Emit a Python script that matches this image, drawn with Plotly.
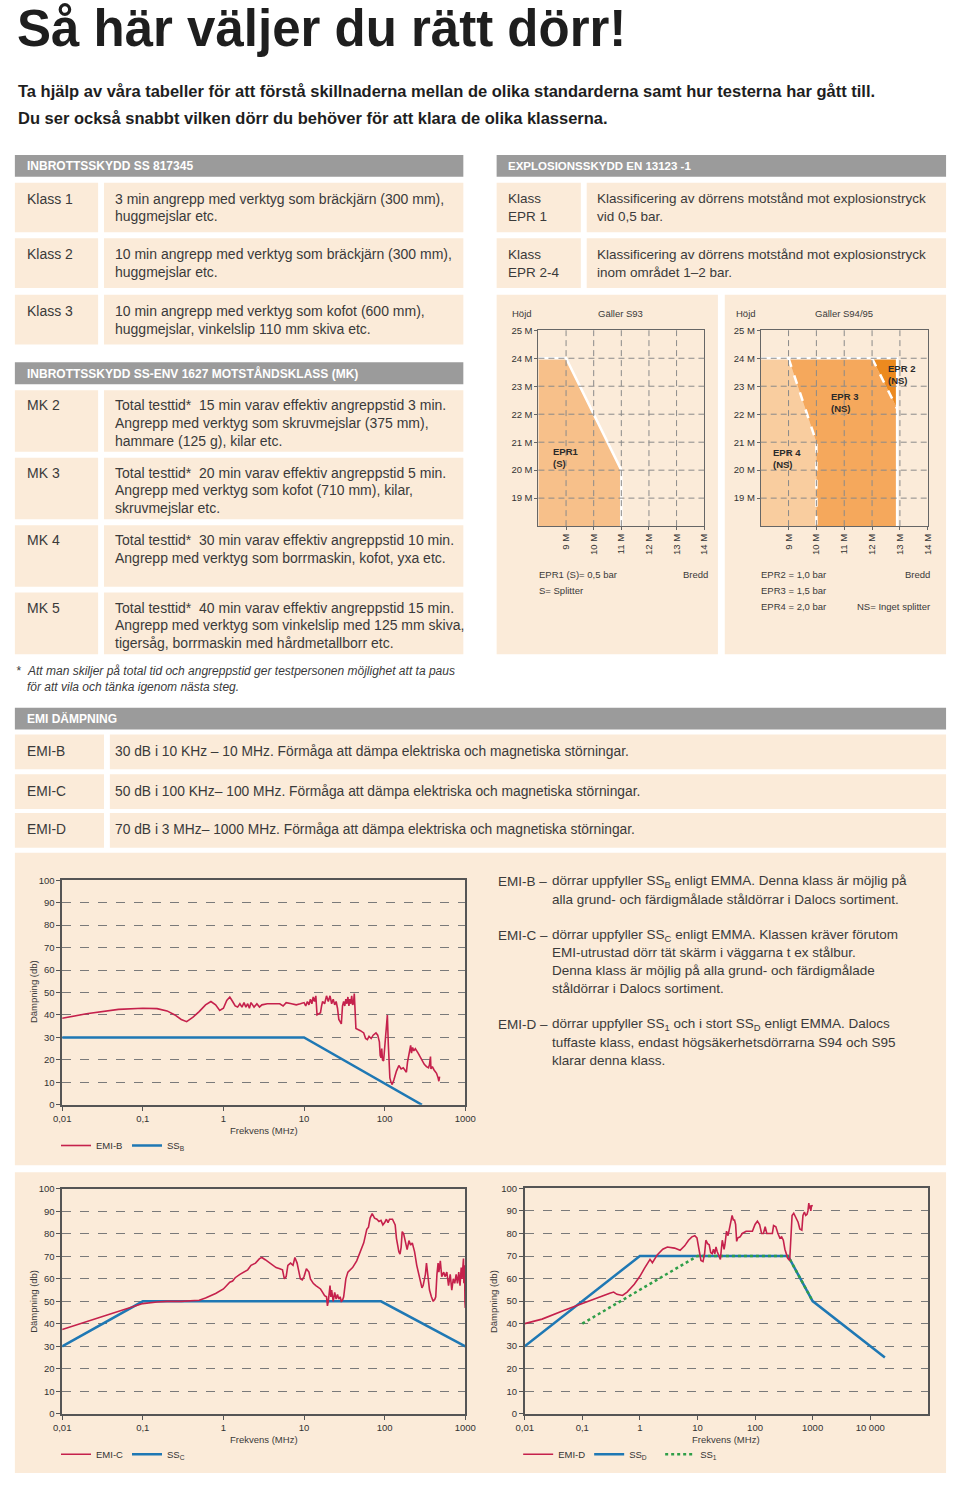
import plotly.graph_objects as go

W, H = 960, 1485

# ---------------- text data ----------------
title_text = "Så här väljer du rätt dörr!"
intro_lines = [
    "Ta hjälp av våra tabeller för att förstå skillnaderna mellan de olika standarderna samt hur testerna har gått till.",
    "Du ser också snabbt vilken dörr du behöver för att klara de olika klasserna.",
]

ss_header = "INBROTTSSKYDD SS 817345"
ss_classes = ["Klass 1", "Klass 2", "Klass 3"]
ss_texts = [
    ["3 min angrepp med verktyg som bräckjärn (300 mm),", "huggmejslar etc."],
    ["10 min angrepp med verktyg som bräckjärn (300 mm),", "huggmejslar etc."],
    ["10 min angrepp med verktyg som kofot (600 mm),", "huggmejslar, vinkelslip 110 mm skiva etc."],
]

ex_header = "EXPLOSIONSSKYDD EN 13123 -1"
ex_classes = [["Klass", "EPR 1"], ["Klass", "EPR 2-4"]]
ex_texts = [
    ["Klassificering av dörrens motstånd mot explosionstryck", "vid 0,5 bar."],
    ["Klassificering av dörrens motstånd mot explosionstryck", "inom området 1–2 bar."],
]

mk_header = "INBROTTSSKYDD SS-ENV 1627 MOTSTÅNDSKLASS (MK)"
mk_classes = ["MK 2", "MK 3", "MK 4", "MK 5"]
mk_texts = [
    ["Total testtid*  15 min varav effektiv angreppstid 3 min.",
     "Angrepp med verktyg som skruvmejslar (375 mm),",
     "hammare (125 g), kilar etc."],
    ["Total testtid*  20 min varav effektiv angreppstid 5 min.",
     "Angrepp med verktyg som kofot (710 mm), kilar,",
     "skruvmejslar etc."],
    ["Total testtid*  30 min varav effektiv angreppstid 10 min.",
     "Angrepp med verktyg som borrmaskin, kofot, yxa etc."],
    ["Total testtid*  40 min varav effektiv angreppstid 15 min.",
     "Angrepp med verktyg som vinkelslip med 125 mm skiva,",
     "tigersåg, borrmaskin med hårdmetallborr etc."],
]
footnote_lines = [
    "Att man skiljer på total tid och angreppstid ger testpersonen möjlighet att ta paus",
    "för att vila och tänka igenom nästa steg.",
]

emi_header = "EMI DÄMPNING"
emi_classes = ["EMI-B", "EMI-C", "EMI-D"]
emi_texts = [
    "30 dB i 10 KHz – 10 MHz. Förmåga att dämpa elektriska och magnetiska störningar.",
    "50 dB i 100 KHz– 100 MHz. Förmåga att dämpa elektriska och magnetiska störningar.",
    "70 dB i 3 MHz– 1000 MHz. Förmåga att dämpa elektriska och magnetiska störningar.",
]
emi_desc = [
    ("EMI-B –", ["dörrar uppfyller SS<sub>B</sub> enligt EMMA. Denna klass är möjlig på",
                 "alla grund- och färdigmålade ståldörrar i Dalocs sortiment."]),
    ("EMI-C –", ["dörrar uppfyller SS<sub>C</sub> enligt EMMA. Klassen kräver förutom",
                 "EMI-utrustad dörr tät skärm i väggarna t ex stålbur.",
                 "Denna klass är möjlig på alla grund- och färdigmålade",
                 "ståldörrar i Dalocs sortiment."]),
    ("EMI-D –", ["dörrar uppfyller SS<sub>1</sub> och i stort SS<sub>D</sub> enligt EMMA. Dalocs",
                 "tuffaste klass, endast högsäkerhetsdörrarna S94 och S95",
                 "klarar denna klass."]),
]

# ---------------- explosion chart data ----------------
height_ticks = [19, 20, 21, 22, 23, 24, 25]
height_labels = ["19 M", "20 M", "21 M", "22 M", "23 M", "24 M", "25 M"]
width_ticks = [9, 10, 11, 12, 13, 14]
width_labels = ["9 M", "10 M", "11 M", "12 M", "13 M", "14 M"]

epr1_x = [8, 8, 9, 11, 11]
epr1_y = [18, 24, 24, 20, 18]
s93_edge_x = [8, 9, 11, 11]
s93_edge_y = [24, 24, 20, 18]

epr4_x = [8, 8, 9, 10, 10]
epr4_y = [18, 24, 24, 21, 18]
epr3_x = [10, 10, 9, 12, 12.9, 12.9]
epr3_y = [18, 21, 24, 24, 22.2, 18]
epr2_x = [12, 12.9, 12.9]
epr2_y = [24, 24, 22.2]
s94_edge_x = [8, 12.9, 12.9]
s94_edge_y = [24, 24, 18]
s94_div1_x = [9, 10, 10]
s94_div1_y = [24, 21, 18]
s94_div2_x = [12, 12.9]
s94_div2_y = [24, 22.2]

# ---------------- EMI chart data ----------------
emi_ticks = [0.01, 0.1, 1, 10, 100, 1000]
emi_ticklabels = ["0,01", "0,1", "1", "10", "100", "1000"]
emid_ticks = [0.01, 0.1, 1, 10, 100, 1000, 10000]
emid_ticklabels = ["0,01", "0,1", "1", "10", "100", "1000", "10 000"]

ssb_freq = [0.01, 10, 290]
ssb_val = [30, 30, 0]
emib_freq = [0.01, 0.02, 0.05, 0.1, 0.15, 0.2, 0.25, 0.3, 0.35, 0.42, 0.5, 0.6, 0.7, 0.8, 0.9,
             1.0, 1.1, 1.2, 1.3, 1.4, 1.5, 1.6, 1.7, 1.8, 1.9, 2.0, 2.1, 2.2, 2.4, 2.6, 2.8, 3.0,
             3.5, 4, 5, 5.5, 6, 7, 8, 9, 10, 10.5, 11, 11.5, 12, 12.5, 13, 13.5, 14, 14.5, 15,
             16, 16.5, 17, 18, 19, 20, 21, 22, 23, 24, 25, 26, 27, 28, 29, 30, 31, 32, 33, 34,
             35, 36, 37, 38, 39, 40, 41, 42, 43, 44, 50, 55, 58, 61, 64, 68, 72, 78, 82, 86, 88,
             90, 92, 94, 97, 100, 104, 108, 111, 113, 116, 120, 124, 130, 140, 150, 160, 170,
             180, 186, 192, 200, 205, 210, 215, 222, 230, 240, 260, 280, 300, 310, 330, 350,
             360, 370, 375, 390, 410, 440, 460, 470, 480]
emib_val = [38.5, 40.5, 42.5, 43, 42.8, 41.8, 40, 38, 37, 39, 41.5, 44.5, 46, 44.5, 42,
            43, 46.5, 48, 46, 44, 43.5, 45, 43.5, 45.5, 43.5, 45, 43, 45.5, 43.5, 45, 43.5, 44.5,
            45, 45, 45, 44, 45.5, 45, 44.5, 45, 45.5, 44, 46, 44.5, 47, 45, 48, 46, 48.5, 40, 40.5,
            41, 44, 46, 45, 48.5, 46, 48.5, 45, 47, 44.5, 46, 43, 38, 37, 36, 44, 46, 44, 47, 45,
            48, 44, 47, 45, 48.5, 44.5, 45, 49.5, 40, 34, 33, 32, 29.5, 29, 30.5, 29.5, 31, 32, 31, 28, 22,
            21, 25, 20, 19.5, 25, 32, 40, 27, 20, 12, 10, 9, 11, 15, 17.5, 16, 16.5,
            15, 14.5, 19, 22, 25, 26.5, 23, 25.5, 24, 25, 23, 21, 19.5, 18, 17, 16.5,
            18, 21.5, 16, 17, 15.5, 14, 12, 10.5, 12.5]

ssc_freq = [0.01, 0.1, 90, 1000]
ssc_val = [30, 50, 50, 30]
emic_freq = [0.01, 0.03, 0.06, 0.1, 0.15, 0.2, 0.3, 0.4, 0.5, 0.6, 0.7, 0.8, 1.0, 1.1, 1.2, 1.3,
             1.4, 1.6, 1.8, 2.0, 2.2, 2.5, 2.8, 3.0, 3.3, 3.6, 4.0, 4.5, 5.0, 5.4, 5.7, 6.0, 6.3,
             6.8, 7.3, 7.7, 8.2, 8.5, 9.0, 9.5, 10, 10.7, 11.5, 12, 13, 14, 15, 16, 17, 18, 19,
             19.5, 20, 21, 21.5, 22, 23, 24, 25, 26, 27, 28, 29, 30, 31, 32, 33, 35, 40, 45, 50,
             55, 60, 63, 66, 70, 75, 80, 85, 90, 95, 100, 105, 110, 115, 125, 135, 140, 150, 155,
             160, 165, 172, 180, 190, 200, 210, 220, 235, 250, 270, 290, 300, 320, 330, 345, 360,
             380, 400, 420, 430, 445, 460, 470, 490, 510, 540, 560, 590, 620, 650, 680, 710, 740,
             770, 800, 830, 860, 890, 910, 930, 950, 960, 980, 990, 1000]
emic_val = [37.5, 43, 46.5, 49, 49.7, 50, 50, 50.2, 50.5, 51.5, 52.5, 53.5, 55.5, 57, 58.5, 59,
            60.5, 62, 63, 64, 66, 67, 69, 69.5, 68.5, 67.5, 66.5, 65, 64.5, 64, 60, 61, 66,
            67, 66, 69.5, 67, 64, 60, 59.5, 61, 64.5, 63, 60, 58, 57, 56, 55.5, 54, 52.5, 52,
            48, 50, 57, 52, 55, 50, 54, 51, 53, 51, 52, 50, 50.5, 52, 57, 60, 63, 65, 68, 72,
            76, 82, 83, 87, 89, 87, 86.5, 85.5, 86, 84, 85, 86.5, 85, 86.5, 86.5, 84, 78, 72, 71,
            74, 81, 80, 76, 73, 77, 75, 76, 72, 66, 60, 56, 57, 62, 67, 60, 55,
            52, 50, 51, 52, 62, 67, 63, 68, 61, 63, 61, 63, 57, 62, 55, 60, 58,
            62, 58, 63, 57, 65, 60, 64, 69, 58, 66, 50, 47]

ssd_freq = [0.01, 1, 375, 1000, 18000]
ssd_val = [30, 70, 70, 50, 25]
ss1_freq = [0.1, 10, 375, 1000]
ss1_val = [40, 70, 70, 50]
emid_freq = [0.01, 0.02, 0.05, 0.1, 0.2, 0.3, 0.35, 0.4, 0.5, 0.6, 0.8, 1.0, 1.2, 1.4, 1.5, 1.65,
             1.8, 2.0, 2.5, 3.0, 4.0, 5.0, 6.0, 7.0, 8.0, 9.0, 9.8, 10.5, 11, 11.5, 12.5, 13.3, 14,
             15, 16, 17, 18, 19, 20, 21, 22, 24, 25, 26, 27, 28, 29, 30, 32, 34, 36, 38, 40, 42,
             44, 46, 48, 50, 55, 60, 70, 80, 90, 100, 110, 120, 130, 140, 150, 160, 180, 200, 210,
             230, 250, 270, 290, 310, 330, 350, 370, 400, 420, 440, 470, 520, 560, 600, 650, 680,
             720, 760, 800, 830, 860, 880, 900, 930, 960, 1000]
emid_val = [40, 42, 46, 49, 52, 53.5, 54, 53, 52.5, 54, 57.5, 61, 64.5, 67, 68.5, 67,
            68.5, 70.5, 73, 74, 73.5, 72.5, 74.5, 77, 78.5, 79, 78, 74, 70, 68, 67.5, 71, 77,
            75.5, 75, 71.5, 71, 73, 71, 74, 72, 70, 68.5, 73, 77, 75, 73, 75, 81, 79, 82, 85, 88, 86,
            86, 84, 76.5, 78, 78.5, 80, 81, 81, 81, 84, 85.5, 84, 80, 80, 83, 80, 80, 80, 83.5,
            83, 80, 78, 78.5, 77, 73, 71, 69, 68, 78, 88, 89, 87, 85, 82, 81.5, 88,
            89.5, 88, 88.5, 90, 93.5, 91, 92.5, 90, 92.5, 92]

# ---------------- styling ----------------
BODY = "Liberation Sans, Arial, Helvetica, sans-serif"
TXT = "#3a3a3a"
BEIGE = "#fbebd9"
GRAY = "#9b9b9b"
RED = "#c5214c"
BLUE = "#1f78b4"
GREEN = "#2f9e48"
FRAME = "#555555"


def px(x):
    return x / W


def py(y):
    return 1 - y / H


shapes = []
annotations = []


def rect(x0, y0, x1, y1, color):
    shapes.append(dict(type="rect", xref="paper", yref="paper", x0=px(x0), x1=px(x1),
                       y0=py(y1), y1=py(y0), fillcolor=color, line=dict(width=0), layer="below"))


def txt(x, y, s, size=14, color=TXT, xanchor="left", yanchor="middle", angle=0):
    annotations.append(dict(x=px(x), y=py(y), xref="paper", yref="paper", text=s, showarrow=False,
                            xanchor=xanchor, yanchor=yanchor, textangle=angle,
                            font=dict(size=size, color=color, family=BODY)))


# title
txt(6, 23, "<b>" + title_text + "</b>", size=51, color="#1e1e1e")
txt(7, 86, "<b>" + intro_lines[0] + "</b>", size=16.5, color="#1e1e1e")
txt(7, 113, "<b>" + intro_lines[1] + "</b>", size=16.5, color="#1e1e1e")

# SS 817345 table
rect(6, 150, 464, 172, GRAY)
txt(16, 161, "<b>" + ss_header + "</b>", size=12, color="white")
row_tops = [178, 234, 291]
for i, top in enumerate(row_tops):
    rect(6, top, 91, top + 50, BEIGE)
    rect(97, top, 464, top + 50, BEIGE)
    txt(16, top + 16, ss_classes[i])
    for j, line in enumerate(ss_texts[i]):
        txt(106, top + 16 + 18 * j, line)

# explosion table
rect(498, 150, 957, 172, GRAY)
txt(508, 161, "<b>" + ex_header + "</b>", size=11.5, color="white")
for i, top in enumerate([178, 234]):
    rect(498, top, 584, top + 50, BEIGE)
    rect(590, top, 957, top + 50, BEIGE)
    for j, line in enumerate(ex_classes[i]):
        txt(508, top + 16 + 18 * j, line, size=13.5)
    for j, line in enumerate(ex_texts[i]):
        txt(598, top + 16 + 18 * j, line, size=13.5)

# explosion chart panels
rect(498, 291, 724, 653, BEIGE)
rect(731, 291, 957, 653, BEIGE)
SM = 9.5
txt(512, 310, "Höjd", size=SM)
txt(625, 310, "Gäller S93", size=SM, xanchor="center")
txt(740, 310, "Höjd", size=SM)
txt(853, 310, "Gäller S94/95", size=SM, xanchor="center")
txt(539, 573, "EPR1 (S)= 0,5 bar", size=SM)
txt(716, 573, "Bredd", size=SM, xanchor="right")
txt(539, 589, "S= Splitter", size=SM)
txt(766, 573, "EPR2 = 1,0 bar", size=SM)
txt(943, 573, "Bredd", size=SM, xanchor="right")
txt(766, 589, "EPR3 = 1,5 bar", size=SM)
txt(766, 605, "EPR4 = 2,0 bar", size=SM)
txt(943, 605, "NS= Inget splitter", size=SM, xanchor="right")

# MK table
rect(6, 359, 464, 381, GRAY)
txt(16, 370, "<b>" + mk_header + "</b>", size=12, color="white")
mk_tops = [387, 455, 523, 591]
for i, top in enumerate(mk_tops):
    rect(6, top, 91, top + 62, BEIGE)
    rect(97, top, 464, top + 62, BEIGE)
    txt(16, top + 15, mk_classes[i])
    for j, line in enumerate(mk_texts[i]):
        txt(106, top + 15 + 18 * j, line)
txt(5, 670, "<i>*</i>", size=12)
txt(16, 670, "<i>" + footnote_lines[0] + "</i>", size=12)
txt(16, 686, "<i>" + footnote_lines[1] + "</i>", size=12)

# EMI table
rect(6, 707, 957, 729, GRAY)
txt(16, 718, "<b>" + emi_header + "</b>", size=12, color="white")
for i, top in enumerate([734, 774, 813]):
    rect(6, top, 97, top + 35, BEIGE)
    rect(103, top, 957, top + 35, BEIGE)
    txt(16, top + 17, emi_classes[i], size=13.8)
    txt(106, top + 17, emi_texts[i], size=13.8)

# EMI chart panels
rect(6, 853, 957, 1168, BEIGE)
rect(6, 1175, 957, 1478, BEIGE)

# right description
y = 882
for k, (lab, lines) in enumerate(emi_desc):
    txt(497, y, lab, size=13.5)
    for j, line in enumerate(lines):
        txt(552, y, line, size=13.5)
        y += 18
    y += 18

# axis titles for EMI charts
txt(260, 1133, "Frekvens (MHz)", size=9.5, xanchor="center")
txt(260, 1444, "Frekvens (MHz)", size=9.5, xanchor="center")
txt(732, 1444, "Frekvens (MHz)", size=9.5, xanchor="center")
txt(25, 993, "Dämpning (db)", size=9.5, xanchor="center", angle=-90)
txt(25, 1305, "Dämpning (db)", size=9.5, xanchor="center", angle=-90)
txt(495, 1305, "Dämpning (db)", size=9.5, xanchor="center", angle=-90)

# ---------------- traces ----------------
fig = go.Figure()

# explosion S93
fig.add_trace(go.Scatter(x=epr1_x, y=epr1_y, fill="toself", fillcolor="#f7c08a", mode="none",
                         showlegend=False, hoverinfo="skip", xaxis="x", yaxis="y"))
fig.add_trace(go.Scatter(x=s93_edge_x, y=s93_edge_y, mode="lines", line=dict(color="white", width=2.5),
                         showlegend=False, hoverinfo="skip", xaxis="x", yaxis="y"))
# explosion S94/95
fig.add_trace(go.Scatter(x=epr4_x, y=epr4_y, fill="toself", fillcolor="#f9cd9f", mode="none",
                         showlegend=False, hoverinfo="skip", xaxis="x2", yaxis="y2"))
fig.add_trace(go.Scatter(x=epr3_x, y=epr3_y, fill="toself", fillcolor="#f5a85c", mode="none",
                         showlegend=False, hoverinfo="skip", xaxis="x2", yaxis="y2"))
fig.add_trace(go.Scatter(x=epr2_x, y=epr2_y, fill="toself", fillcolor="#ec8a1f", mode="none",
                         showlegend=False, hoverinfo="skip", xaxis="x2", yaxis="y2"))
fig.add_trace(go.Scatter(x=s94_edge_x, y=s94_edge_y, mode="lines", line=dict(color="white", width=2.5),
                         showlegend=False, hoverinfo="skip", xaxis="x2", yaxis="y2"))
for dx, dy in [(s94_div1_x, s94_div1_y), (s94_div2_x, s94_div2_y)]:
    fig.add_trace(go.Scatter(x=dx, y=dy, mode="lines", line=dict(color="white", width=2.5, dash="dash"),
                             showlegend=False, hoverinfo="skip", xaxis="x2", yaxis="y2"))

# EMI-B
fig.add_trace(go.Scatter(x=ssb_freq, y=ssb_val, mode="lines", line=dict(color=BLUE, width=2.5),
                         name="SS<sub>B</sub>", legend="legend", legendrank=2, xaxis="x3", yaxis="y3"))
fig.add_trace(go.Scatter(x=emib_freq, y=emib_val, mode="lines", line=dict(color=RED, width=1.6),
                         name="EMI-B", legend="legend", legendrank=1, xaxis="x3", yaxis="y3"))
# EMI-C
fig.add_trace(go.Scatter(x=ssc_freq, y=ssc_val, mode="lines", line=dict(color=BLUE, width=2.5),
                         name="SS<sub>C</sub>", legend="legend2", legendrank=2, xaxis="x4", yaxis="y4"))
fig.add_trace(go.Scatter(x=emic_freq, y=emic_val, mode="lines", line=dict(color=RED, width=1.6),
                         name="EMI-C", legend="legend2", legendrank=1, xaxis="x4", yaxis="y4"))
# EMI-D
fig.add_trace(go.Scatter(x=ssd_freq, y=ssd_val, mode="lines", line=dict(color=BLUE, width=2.5),
                         name="SS<sub>D</sub>", legend="legend3", legendrank=2, xaxis="x5", yaxis="y5"))
fig.add_trace(go.Scatter(x=ss1_freq, y=ss1_val, mode="lines", line=dict(color=GREEN, width=2.5, dash="dot"),
                         name="SS<sub>1</sub>", legend="legend3", legendrank=3, xaxis="x5", yaxis="y5"))
fig.add_trace(go.Scatter(x=emid_freq, y=emid_val, mode="lines", line=dict(color=RED, width=1.6),
                         name="EMI-D", legend="legend3", legendrank=1, xaxis="x5", yaxis="y5"))

# explosion grid lines as dashed overlays
for xr, yr, dom in [("x", "y", "y domain"), ("x2", "y2", "y2 domain")]:
    for v in width_ticks[:-1]:
        shapes.append(dict(type="line", xref=xr, yref=dom, x0=v, x1=v, y0=0, y1=1,
                           line=dict(color="#8a8a8a", width=1, dash="6px,4px"), layer="above"))
    for v in height_ticks[:-1]:
        shapes.append(dict(type="line", xref=xr + " domain", yref=yr, x0=0, x1=1, y0=v, y1=v,
                           line=dict(color="#8a8a8a", width=1, dash="6px,4px"), layer="above"))

# explosion labels
for xr, yr, xx, yy, s in [("x", "y", 8.45, 20.47, "EPR1<br>(S)"),
                          ("x2", "y2", 8.36, 20.42, "EPR 4<br>(NS)"),
                          ("x2", "y2", 10.44, 22.42, "EPR 3<br>(NS)"),
                          ("x2", "y2", 12.5, 23.43, "EPR 2<br>(NS)")]:
    annotations.append(dict(x=xx, y=yy, xref=xr, yref=yr, text="<b>" + s + "</b>", showarrow=False,
                            xanchor="left", yanchor="middle", align="left",
                            font=dict(size=9.5, color="#2a2a2a", family=BODY)))


def dom_x(a, b):
    return [px(a), px(b)]


def dom_y(top, bottom):
    return [py(bottom), py(top)]


tick_font = dict(size=9.5, color="#333", family=BODY)

ex_x = dict(range=[8, 14], tickmode="array", tickvals=width_ticks, ticktext=width_labels, tickangle=-90,
            showgrid=False, zeroline=False, showline=True, mirror=True, linecolor="#666", linewidth=1,
            ticks="outside", ticklen=3, tickcolor="#666", tickfont=tick_font, fixedrange=True)
ex_y = dict(range=[18, 25], tickmode="array", tickvals=height_ticks, ticktext=height_labels,
            showgrid=False, zeroline=False, showline=True, mirror=True, linecolor="#666", linewidth=1,
            ticks="outside", ticklen=3, tickcolor="#666", tickfont=tick_font, fixedrange=True)


def emi_x(rng, vals, labels, domain):
    return dict(type="log", range=rng, tickmode="array", tickvals=vals, ticktext=labels, domain=domain,
                showgrid=False, zeroline=False, showline=True, mirror=True, linecolor=FRAME, linewidth=1.5,
                ticks="outside", ticklen=4, tickcolor=FRAME, tickfont=tick_font, fixedrange=True)


def emi_y(domain, anchor):
    return dict(range=[0, 100], dtick=10, tick0=0, domain=domain, anchor=anchor,
                showgrid=True, gridcolor="#7a7a7a", griddash="dash", gridwidth=1,
                zeroline=False, showline=True, mirror=True, linecolor=FRAME, linewidth=1.5,
                ticks="outside", ticklen=4, tickcolor=FRAME, tickfont=tick_font, fixedrange=True)


leg_common = dict(orientation="h", xanchor="left", yanchor="middle", bgcolor="rgba(0,0,0,0)",
                  font=dict(size=9.5, color="#333", family=BODY), itemwidth=30,
                  entrywidthmode="pixels", entrywidth=26, tracegroupgap=0)

fig.update_layout(
    width=W, height=H, margin=dict(l=0, r=0, t=0, b=0), autosize=False,
    paper_bgcolor="white", plot_bgcolor="rgba(0,0,0,0)",
    xaxis=dict(ex_x, domain=dom_x(540.7, 710), anchor="y"),
    yaxis=dict(ex_y, domain=dom_y(326.7, 524), anchor="x"),
    xaxis2=dict(ex_x, domain=dom_x(767.7, 938.3), anchor="y2"),
    yaxis2=dict(ex_y, domain=dom_y(326.7, 524), anchor="x2"),
    xaxis3=dict(emi_x([-2, 3], emi_ticks, emi_ticklabels, dom_x(54.3, 466)), anchor="y3"),
    yaxis3=emi_y(dom_y(880.7, 1107), "x3"),
    xaxis4=dict(emi_x([-2, 3], emi_ticks, emi_ticklabels, dom_x(54.3, 466)), anchor="y4"),
    yaxis4=emi_y(dom_y(1191.7, 1418.3), "x4"),
    xaxis5=dict(emi_x([-2, 5], emid_ticks, emid_ticklabels, dom_x(526.7, 938.3)), anchor="y5"),
    yaxis5=emi_y(dom_y(1191.2, 1418.3), "x5"),
    legend=dict(leg_common, x=px(48), y=py(1148)),
    legend2=dict(leg_common, x=px(48), y=py(1459)),
    legend3=dict(leg_common, x=px(520), y=py(1459)),
    shapes=shapes,
    annotations=annotations,
    showlegend=True,
)

post_js = (
    "var st=document.createElement('style');"
    "st.innerHTML='html,body{margin:0!important;padding:0!important;overflow:hidden;}';"
    "document.head.appendChild(st);"
    "var gd=document.getElementById('{plot_id}');"
    "if(gd){gd.style.position='absolute';gd.style.left='0px';gd.style.top='0px';}"
)

fig.write_html("out.html", config={"displayModeBar": False, "staticPlot": False},
               post_script=post_js)
